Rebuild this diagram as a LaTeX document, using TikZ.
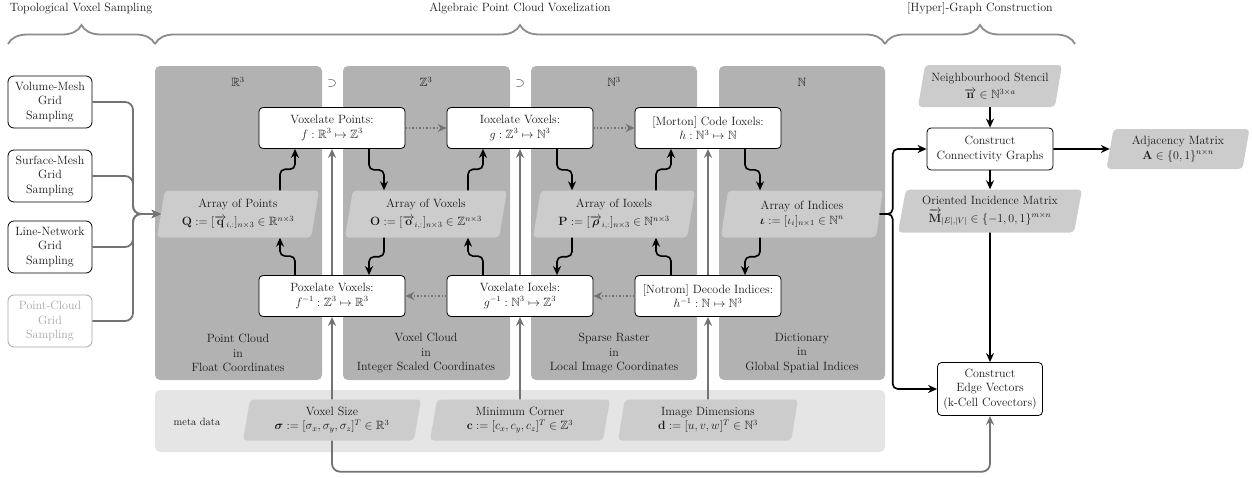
\documentclass[tikz,border=0pt]{standalone}
\usepackage{amsmath,amssymb}
\usetikzlibrary{shapes.geometric,arrows.meta,decorations.pathreplacing,calc}

\begin{document}
\begin{tikzpicture}[x=1pt, y=-1pt, font=\fontsize{12}{14.5}\selectfont, text=black!90,
    panel/.style={fill=black!30, rounded corners=5pt},
    func/.style={draw=black, fill=white, rounded corners=4pt, line width=0.8pt, align=center, inner sep=1pt, minimum width=146pt, minimum height=41pt},
    src/.style={func, minimum width=84pt, minimum height=52pt, rounded corners=6pt},
    data/.style={trapezium, trapezium left angle=76, trapezium right angle=104, trapezium stretches body, fill=black!20, rounded corners=4pt, align=center, inner sep=1pt, minimum width=162pt, minimum height=47pt},
    flow/.style={-{Stealth[length=9pt,width=8pt]}, line width=1.6pt, rounded corners=5pt},
    feed/.style={flow, draw=black!55, line width=1.8pt, rounded corners=8pt},
    meta/.style={flow, draw=black!55, line width=1.8pt, rounded corners=8pt},
    dots/.style={-{Stealth[length=9pt,width=8pt]}, draw=black!55, line width=1.5pt, dotted}]
    \useasboundingbox (0,0) rectangle (1252,477);

    \draw[decorate, decoration={brace, amplitude=19pt}, draw=black!45, line width=1.8pt] (8,44) -- (155,44);
    \draw[decorate, decoration={brace, amplitude=19pt}, draw=black!45, line width=1.8pt] (155,44) -- (885,44);
    \draw[decorate, decoration={brace, amplitude=19pt}, draw=black!45, line width=1.8pt] (885,44) -- (1075,44);
    \node (h1) at (81,9) {Topological Voxel Sampling};
    \node (h2) at (520,8) {Algebraic Point Cloud Voxelization};
    \node (h3) at (980,8) {[Hyper]-Graph Construction};

    \fill[panel] (155,66) rectangle (322,380);
    \fill[panel] (343,66) rectangle (510,380);
    \fill[panel] (531,66) rectangle (697,380);
    \fill[panel] (719,66) rectangle (885,380);
    \fill[black!10, rounded corners=5pt] (155,390) rectangle (885,452);

    \node (rr) at (238,82) {$\mathbb{R}^3$};
    \node (zz) at (426,82) {$\mathbb{Z}^3$};
    \node (nn) at (614,82) {$\mathbb{N}^3$};
    \node (n1) at (802,82) {$\mathbb{N}$};
    \node (s1) at (332,83) {$\supset$};
    \node (s2) at (520,83) {$\supset$};

    \node[align=center] (l1) at (238,353) {Point Cloud\\in\\Float Coordinates};
    \node[align=center] (l2) at (426,353) {Voxel Cloud\\in\\Integer Scaled Coordinates};
    \node[align=center] (l3) at (614,353) {Sparse Raster\\in\\Local Image Coordinates};
    \node[align=center] (l4) at (802,353) {Dictionary\\in\\Global Spatial Indices};

    % sampling
    \node[src] (vm) at (50,102) {Volume-Mesh\\Grid\\Sampling};
    \node[src] (sm) at (50,176) {Surface-Mesh\\Grid\\Sampling};
    \node[src] (ln) at (50,247) {Line-Network\\Grid\\Sampling};
    \node[src, draw=black!35, text=black!35] (pc) at (50,321) {Point-Cloud\\Grid\\Sampling};

    % arrays
    \node[data] (q) at (238,214) {Array of Points\\[3pt]$\mathbf{Q} := [\overrightarrow{\mathbf{q}}_{i,:}]_{n\times 3} \in \mathbb{R}^{n\times 3}$};
    \node[data] (o) at (426,214) {Array of Voxels\\[3pt]$\mathbf{O} := [\overrightarrow{\mathbf{o}}_{i,:}]_{n\times 3} \in \mathbb{Z}^{n\times 3}$};
    \node[data] (p) at (614,214) {Array of Ioxels\\[3pt]$\mathbf{P} := [\overrightarrow{\boldsymbol{\rho}}_{i,:}]_{n\times 3} \in \mathbb{N}^{n\times 3}$};
    \node[data] (ix) at (802,214) {Array of Indices\\$\boldsymbol{\iota} := [\iota_i]_{n\times 1} \in \mathbb{N}^{n}$};

    % functions
    \node[func] (fv) at (332,128) {Voxelate Points:\\$f : \mathbb{R}^3 \mapsto \mathbb{Z}^3$};
    \node[func] (gv) at (520,128) {Ioxelate Voxels:\\$g : \mathbb{Z}^3 \mapsto \mathbb{N}^3$};
    \node[func] (hv) at (708,128) {[Morton] Code Ioxels:\\$h : \mathbb{N}^3 \mapsto \mathbb{N}$};
    \node[func] (fi) at (332,296) {Poxelate Voxels:\\$f^{-1} : \mathbb{Z}^3 \mapsto \mathbb{R}^3$};
    \node[func] (gi) at (520,296) {Voxelate Ioxels:\\$g^{-1} : \mathbb{N}^3 \mapsto \mathbb{Z}^3$};
    \node[func] (hi) at (708,296) {[Notrom] Decode Indices:\\$h^{-1} : \mathbb{N} \mapsto \mathbb{N}^3$};

    % meta data
    \node[font=\fontsize{10.5}{12}\selectfont] (md) at (197,422) {meta data};
    \node[data, minimum width=178pt, minimum height=41pt] (vs) at (332,420) {Voxel Size\\$\boldsymbol{\sigma} := [\sigma_x, \sigma_y, \sigma_z]^T \in \mathbb{R}^3$};
    \node[data, minimum width=180pt, minimum height=41pt] (mc) at (520,420) {Minimum Corner\\$\mathbf{c} := [c_x, c_y, c_z]^T \in \mathbb{Z}^3$};
    \node[data, minimum width=180pt, minimum height=41pt] (id) at (708,420) {Image Dimensions\\$\mathbf{d} := [u, v, w]^T \in \mathbb{N}^3$};

    % graph construction
    \node[data, minimum width=144pt, minimum height=42pt] (ns) at (990,86) {Neighbourhood Stencil\\[3pt]$\overrightarrow{\mathbf{n}} \in \mathbb{N}^{3\times a}$};
    \node[func, minimum width=126pt, minimum height=42pt] (cg) at (990,149) {Construct\\Connectivity Graphs};
    \node[data, minimum width=143pt, minimum height=40pt] (am) at (1178,149) {Adjacency Matrix\\$\mathbf{A} \in \{0,1\}^{n\times n}$};
    \node[data, minimum width=184pt, minimum height=43pt] (oi) at (990,211) {Oriented Incidence Matrix\\[3pt]$\overrightarrow{\mathbf{M}}_{|E|,|V|} \in \{-1,0,1\}^{m\times n}$};
    \node[func, minimum width=105pt, minimum height=53pt] (ev) at (990,389) {Construct\\Edge Vectors\\(k-Cell Covectors)};

    \coordinate (join) at (133,214);
    \draw[feed] (vm.east) -| (join) -- (q.west);
    \draw[feed] (sm.east) -| (join) -- (q.west);
    \draw[feed] (ln.east) -| (join) -- (q.west);
    \draw[feed] (pc.east) -| (join) -- (q.west);

    \draw[flow] ($(q.north -| fv.south)+(-52,0)$) -- ++(0,-21) -| ($(fv.south)+(-37,0)$);
    \draw[flow] ($(fv.south)+(37,0)$) -- ++(0,21) -| ($(o.north -| fv.south)+(52,0)$);
    \draw[flow] ($(o.north -| gv.south)+(-52,0)$) -- ++(0,-21) -| ($(gv.south)+(-37,0)$);
    \draw[flow] ($(gv.south)+(37,0)$) -- ++(0,21) -| ($(p.north -| gv.south)+(52,0)$);
    \draw[flow] ($(p.north -| hv.south)+(-52,0)$) -- ++(0,-21) -| ($(hv.south)+(-37,0)$);
    \draw[flow] ($(hv.south)+(37,0)$) -- ++(0,21) -| ($(ix.north -| hv.south)+(52,0)$);

    \draw[flow] ($(fi.north)+(-37,0)$) -- ++(0,-19) -| ($(q.south -| fi.north)+(-52,0)$);
    \draw[flow] ($(o.south -| fi.north)+(52,0)$) -- ++(0,19) -| ($(fi.north)+(37,0)$);
    \draw[flow] ($(gi.north)+(-37,0)$) -- ++(0,-19) -| ($(o.south -| gi.north)+(-52,0)$);
    \draw[flow] ($(p.south -| gi.north)+(52,0)$) -- ++(0,19) -| ($(gi.north)+(37,0)$);
    \draw[flow] ($(hi.north)+(-37,0)$) -- ++(0,-19) -| ($(p.south -| hi.north)+(-52,0)$);
    \draw[flow] ($(ix.south -| hi.north)+(52,0)$) -- ++(0,19) -| ($(hi.north)+(37,0)$);

    \draw[dots] (fv.east) -- (gv.west);
    \draw[dots] (gv.east) -- (hv.west);
    \draw[dots] (gi.west) -- (fi.east);
    \draw[dots] (hi.west) -- (gi.east);

    \draw[meta] (vs.north) -- (fi.south);
    \draw[meta] (fi.north) -- (fv.south);
    \draw[meta] (mc.north) -- (gi.south);
    \draw[meta] (gi.north) -- (gv.south);
    \draw[meta] (id.north) -- (hi.south);
    \draw[meta] (hi.north) -- (hv.south);
    \draw[meta] (vs.south) -- ++(0,31) -| (ev.south);

    \draw[flow] (ns) -- (cg);
    \draw[flow] (cg) -- (am);
    \draw[flow] (cg) -- (oi);
    \draw[flow] (oi) -- (ev);
    \draw[flow] (ix.east) -- ++(13,0) |- (cg.west);
    \draw[flow] (ix.east) -- ++(13,0) |- (ev.west);
\end{tikzpicture}
\end{document}
